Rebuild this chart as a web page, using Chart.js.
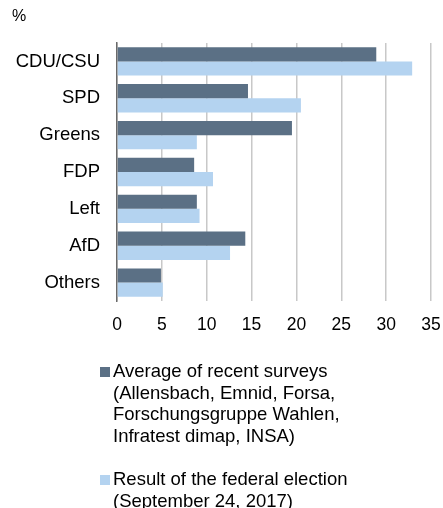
<!DOCTYPE html>
<html lang="en">
<head>
    <meta charset="UTF-8">
    <title>Survey vs. federal election 2017</title>
    <script src="https://cdn.jsdelivr.net/npm/chart.js"></script>
    <style>
        html, body { margin: 0; padding: 0; background: #fff; }
        #wrap { width: 443px; height: 508px; position: relative; }
    </style>
</head>
<body>
    <div id="wrap"><canvas id="barChart"></canvas></div>
    <script>
        // dados
        const parties = ['CDU/CSU', 'SPD', 'Greens', 'FDP', 'Left', 'AfD', 'Others'];
        const surveyAvg = [28.9, 14.6, 19.5, 8.6, 8.9, 14.3, 4.9];
        const electionResult = [32.9, 20.5, 8.9, 10.7, 9.2, 12.6, 5.1];
        const xTicks = [0, 5, 10, 15, 20, 25, 30, 35];
        const legendLines = [
            ['Average of recent surveys', '(Allensbach, Emnid, Forsa,', 'Forschungsgruppe Wahlen,', 'Infratest dimap, INSA)'],
            ['Result of the federal election', '(September 24, 2017)']
        ];

        const darkBlue = '#5b7085';
        const lightBlue = '#b4d3f0';
        const font = 'Liberation Sans, Arial, sans-serif';

        // legenda de várias linhas + o "%" desenhados à mão
        const extras = {
            id: 'extras',
            afterDraw(chart) {
                const ctx = chart.ctx;
                ctx.save();
                ctx.fillStyle = '#000';
                ctx.textBaseline = 'middle';
                ctx.textAlign = 'left';
                ctx.font = '16px ' + font;
                ctx.fillText('%', 12, 17);

                ctx.font = '18.5px ' + font;
                const colors = [darkBlue, lightBlue];
                const starts = [372, 480];
                legendLines.forEach((lines, i) => {
                    ctx.fillStyle = colors[i];
                    ctx.fillRect(100, starts[i] - 5, 10, 10);
                    ctx.fillStyle = '#000';
                    lines.forEach((t, j) => ctx.fillText(t, 113, starts[i] + j * 21.7));
                });
                ctx.restore();
            }
        };

        new Chart(document.getElementById('barChart'), {
            type: 'bar',
            data: {
                labels: parties,
                datasets: [
                    { label: legendLines[0].join(' '), data: surveyAvg, backgroundColor: darkBlue },
                    { label: legendLines[1].join(' '), data: electionResult, backgroundColor: lightBlue }
                ]
            },
            options: {
                indexAxis: 'y',
                responsive: true,
                maintainAspectRatio: false,
                animation: false,
                datasets: { bar: { categoryPercentage: 0.77, barPercentage: 1 } },
                layout: { padding: { top: 43, left: 0, right: 12, bottom: 172 } },
                plugins: {
                    legend: { display: false },
                    tooltip: { enabled: false }
                },
                scales: {
                    x: {
                        min: 0,
                        max: 35,
                        afterBuildTicks: s => { s.ticks = xTicks.map(v => ({ value: v })); },
                        afterFit: s => { s.height = 35; s.paddingRight = 0; s.paddingLeft = 0; },
                        grid: { color: '#c8c8c8', lineWidth: 1.5, drawTicks: false },
                        border: { display: false },
                        ticks: { color: '#000', padding: 14, font: { family: font, size: 17.5 } }
                    },
                    y: {
                        afterFit: s => { s.width = 117; },
                        grid: { display: false, drawTicks: false },
                        border: { color: '#6a6a6a', width: 1.5 },
                        ticks: { color: '#000', padding: 17, font: { family: font, size: 18.5 } }
                    }
                }
            },
            plugins: [extras]
        });
    </script>
</body>
</html>
